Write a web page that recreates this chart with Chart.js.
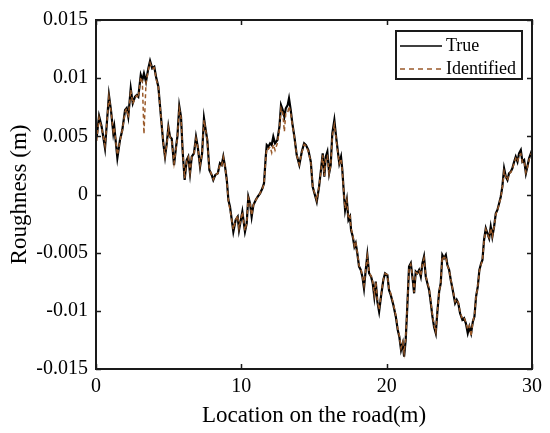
<!DOCTYPE html>
<html>
<head>
<meta charset="utf-8">
<script src="https://cdn.jsdelivr.net/npm/chart.js@4.4.1/dist/chart.umd.min.js"></script>
<style>
html, body { margin: 0; padding: 0; background: #fff; }
canvas { display: block; }
</style>
</head>
<body>
<canvas id="roadChart" width="550" height="433"></canvas>
<script>
// Location on the road (m)
const roadPos = [
  0.05, 0.21, 0.39, 0.62, 0.89, 1.03, 1.19, 1.26, 1.47, 1.65, 1.81, 2.00, 2.11, 2.22, 2.39, 2.53, 2.68, 2.80, 2.91, 3.08,
  3.19, 3.30, 3.44, 3.60, 3.72, 3.87, 4.01, 4.13, 4.29, 4.47, 4.63, 4.75, 4.87, 4.98, 5.09, 5.21, 5.37, 5.51, 5.60, 5.73,
  5.85, 5.97, 6.10, 6.24, 6.35, 6.47, 6.59, 6.74, 6.88, 7.00, 7.16, 7.30, 7.43, 7.55, 7.66, 7.80, 7.96, 8.07, 8.21, 8.38,
  8.53, 8.65, 8.76, 8.88, 9.00, 9.11, 9.22, 9.45, 9.61, 9.75, 9.84, 10.07, 10.25, 10.37, 10.48, 10.60, 10.71, 10.83, 10.99, 11.13,
  11.29, 11.45, 11.56, 11.68, 11.75, 11.86, 11.98, 12.09, 12.20, 12.32, 12.48, 12.62, 12.73, 12.85, 12.96, 13.06, 13.19, 13.28, 13.40, 13.51,
  13.65, 13.81, 13.99, 14.16, 14.32, 14.45, 14.61, 14.78, 14.91, 15.19, 15.35, 15.49, 15.60, 15.71, 15.81, 15.92, 16.04, 16.15, 16.26, 16.40,
  16.52, 16.63, 16.74, 16.86, 16.95, 17.07, 17.14, 17.26, 17.37, 17.48, 17.55, 17.67, 17.78, 17.87, 17.98, 18.10, 18.22, 18.33, 18.44, 18.56,
  18.67, 18.79, 18.93, 19.04, 19.15, 19.25, 19.36, 19.48, 19.61, 19.77, 19.89, 20.05, 20.16, 20.28, 20.46, 20.63, 20.76, 20.87, 20.99, 21.11,
  21.20, 21.31, 21.42, 21.54, 21.66, 21.77, 21.89, 22.00, 22.11, 22.23, 22.35, 22.46, 22.57, 22.69, 22.80, 22.92, 23.04, 23.15, 23.26, 23.38,
  23.49, 23.61, 23.72, 23.83, 23.95, 24.07, 24.18, 24.30, 24.41, 24.52, 24.71, 24.82, 24.93, 25.05, 25.21, 25.33, 25.45, 25.58, 25.69, 25.81,
  25.93, 26.04, 26.15, 26.27, 26.38, 26.50, 26.59, 26.70, 26.82, 26.93, 27.05, 27.16, 27.27, 27.39, 27.51, 27.62, 27.74, 27.85, 27.96, 28.08,
  28.20, 28.31, 28.42, 28.54, 28.65, 28.77, 28.88, 29.00, 29.11, 29.23, 29.34, 29.46, 29.58, 29.68, 29.80, 29.92, 30.00
];

// True roughness (m)
const trueRough = [
  0.00497, 0.00674, 0.00582, 0.00399, 0.00855, 0.00726, 0.00528, 0.00582, 0.00314, 0.00468, 0.00554, 0.00726, 0.00743, 0.00668, 0.00912, 0.00784, 0.00840, 0.00855, 0.00840, 0.01027,
  0.00984, 0.01041, 0.00969, 0.01084, 0.01149, 0.01084, 0.01098, 0.01012, 0.00926, 0.00668, 0.00440, 0.00325, 0.00440, 0.00582, 0.00497, 0.00480, 0.00253, 0.00411, 0.00497, 0.00760,
  0.00668, 0.00354, 0.00125, 0.00296, 0.00325, 0.00182, 0.00325, 0.00354, 0.00497, 0.00411, 0.00239, 0.00354, 0.00655, 0.00554, 0.00468, 0.00210, 0.00168, 0.00125, 0.00168, 0.00182,
  0.00268, 0.00253, 0.00325, 0.00239, 0.00125, -0.00047, -0.00105, -0.00320, -0.00219, -0.00191, -0.00305, -0.00148, -0.00320, -0.00247, -0.00019, -0.00076, -0.00191, -0.00090, -0.00047, -0.00019,
  0.00010, 0.00053, 0.00096, 0.00325, 0.00425, 0.00411, 0.00440, 0.00425, 0.00497, 0.00440, 0.00468, 0.00582, 0.00769, 0.00726, 0.00668, 0.00741, 0.00769, 0.00826, 0.00726, 0.00612,
  0.00497, 0.00339, 0.00253, 0.00368, 0.00440, 0.00425, 0.00382, 0.00282, 0.00067, -0.00062, 0.00067, 0.00225, 0.00354, 0.00153, 0.00325, 0.00368, 0.00182, 0.00253, 0.00526, 0.00640,
  0.00497, 0.00382, 0.00268, 0.00325, 0.00210, -0.00019, -0.00133, -0.00047, -0.00219, -0.00191, -0.00305, -0.00363, -0.00448, -0.00419, -0.00505, -0.00620, -0.00649, -0.00706, -0.00806, -0.00649,
  -0.00520, -0.00677, -0.00706, -0.00763, -0.00878, -0.00749, -0.00921, -0.01007, -0.00878, -0.00735, -0.00677, -0.00692, -0.00820, -0.00863, -0.00949, -0.01050, -0.01164, -0.01222, -0.01336, -0.01278,
  -0.01393, -0.01250, -0.00964, -0.00620, -0.00591, -0.00706, -0.00849, -0.00663, -0.00677, -0.00649, -0.00706, -0.00591, -0.00534, -0.00706, -0.00763, -0.00820, -0.00935, -0.01050, -0.01136, -0.01192,
  -0.01007, -0.00835, -0.00763, -0.00520, -0.00548, -0.00520, -0.00606, -0.00649, -0.00735, -0.00803, -0.00935, -0.00906, -0.00935, -0.01021, -0.01078, -0.01064, -0.01107, -0.01192, -0.01136, -0.01192,
  -0.01093, -0.01050, -0.00878, -0.00792, -0.00649, -0.00591, -0.00563, -0.00391, -0.00290, -0.00333, -0.00376, -0.00277, -0.00363, -0.00277, -0.00162, -0.00133, -0.00076, -0.00019, 0.00067, 0.00225,
  0.00153, 0.00125, 0.00182, 0.00196, 0.00225, 0.00282, 0.00325, 0.00282, 0.00354, 0.00382, 0.00282, 0.00296, 0.00182, 0.00239, 0.00311, 0.00354, 0.00382
];

// Identified roughness (m)
const identRough = [
  0.00460, 0.00660, 0.00570, 0.00420, 0.00840, 0.00720, 0.00540, 0.00570, 0.00340, 0.00460, 0.00550, 0.00710, 0.00740, 0.00660, 0.00900, 0.00780, 0.00830, 0.00850, 0.00830, 0.01010,
  0.00970, 0.00520, 0.00960, 0.01070, 0.01130, 0.01080, 0.01090, 0.01000, 0.00920, 0.00670, 0.00450, 0.00330, 0.00430, 0.00570, 0.00490, 0.00470, 0.00270, 0.00400, 0.00490, 0.00740,
  0.00660, 0.00360, 0.00140, 0.00290, 0.00320, 0.00190, 0.00320, 0.00350, 0.00480, 0.00410, 0.00250, 0.00350, 0.00640, 0.00550, 0.00460, 0.00220, 0.00170, 0.00130, 0.00170, 0.00180,
  0.00260, 0.00250, 0.00320, 0.00240, 0.00120, -0.00060, -0.00130, -0.00300, -0.00220, -0.00180, -0.00290, -0.00150, -0.00310, -0.00240, -0.00030, -0.00080, -0.00180, -0.00090, -0.00050, -0.00020,
  0.00010, 0.00050, 0.00090, 0.00300, 0.00400, 0.00390, 0.00410, 0.00360, 0.00430, 0.00380, 0.00440, 0.00560, 0.00740, 0.00700, 0.00540, 0.00700, 0.00700, 0.00760, 0.00700, 0.00600,
  0.00490, 0.00340, 0.00260, 0.00360, 0.00430, 0.00420, 0.00370, 0.00280, 0.00070, -0.00050, 0.00070, 0.00220, 0.00340, 0.00160, 0.00310, 0.00330, 0.00180, 0.00250, 0.00500, 0.00600,
  0.00480, 0.00370, 0.00270, 0.00310, 0.00200, -0.00020, -0.00120, -0.00050, -0.00210, -0.00190, -0.00290, -0.00350, -0.00440, -0.00410, -0.00500, -0.00610, -0.00640, -0.00700, -0.00780, -0.00640,
  -0.00530, -0.00670, -0.00700, -0.00750, -0.00860, -0.00750, -0.00910, -0.00990, -0.00870, -0.00730, -0.00680, -0.00690, -0.00810, -0.00850, -0.00940, -0.01040, -0.01150, -0.01210, -0.01320, -0.01270,
  -0.01360, -0.01240, -0.00960, -0.00630, -0.00600, -0.00700, -0.00840, -0.00670, -0.00680, -0.00650, -0.00700, -0.00600, -0.00550, -0.00700, -0.00750, -0.00810, -0.00920, -0.01040, -0.01120, -0.01180,
  -0.01000, -0.00840, -0.00760, -0.00530, -0.00550, -0.00530, -0.00610, -0.00650, -0.00730, -0.00800, -0.00920, -0.00900, -0.00930, -0.01010, -0.01070, -0.01060, -0.01100, -0.01160, -0.01130, -0.01220,
  -0.01090, -0.01040, -0.00880, -0.00790, -0.00660, -0.00600, -0.00570, -0.00400, -0.00300, -0.00340, -0.00370, -0.00290, -0.00360, -0.00280, -0.00170, -0.00140, -0.00080, -0.00030, 0.00060, 0.00200,
  0.00150, 0.00120, 0.00180, 0.00190, 0.00220, 0.00270, 0.00310, 0.00280, 0.00340, 0.00350, 0.00280, 0.00290, 0.00190, 0.00230, 0.00300, 0.00340, 0.00370
];

const xTicks = [0, 10, 20, 30];
const yTicks = [-0.015, -0.01, -0.005, 0, 0.005, 0.01, 0.015];
const seriesNames = ['True', 'Identified'];

const serif = "'Liberation Serif', 'Times New Roman', serif";
const trueColor = '#000000';
const identColor = '#9a5a2a';

const toPoints = (xs, ys) => xs.map((x, i) => ({ x: x, y: ys[i] }));

// box around the axes, inward ticks and the boxed legend (MATLAB look)
const matlabFrame = {
  id: 'matlabFrame',
  afterDraw(chart) {
    const ctx = chart.ctx;
    const a = chart.chartArea;
    const xs = chart.scales.x;
    const ys = chart.scales.y;
    ctx.save();
    ctx.strokeStyle = '#1a1a1a';
    ctx.lineWidth = 2;
    ctx.strokeRect(a.left, a.top, a.right - a.left, a.bottom - a.top);

    ctx.lineWidth = 1.5;
    ctx.beginPath();
    xTicks.forEach(v => {
      const p = Math.round(xs.getPixelForValue(v)) + 0.5;
      ctx.moveTo(p, a.bottom); ctx.lineTo(p, a.bottom - 5);
      ctx.moveTo(p, a.top); ctx.lineTo(p, a.top + 5);
    });
    yTicks.forEach(v => {
      const p = Math.round(ys.getPixelForValue(v)) + 0.5;
      ctx.moveTo(a.left, p); ctx.lineTo(a.left + 5, p);
      ctx.moveTo(a.right, p); ctx.lineTo(a.right - 5, p);
    });
    ctx.stroke();

    // legend
    const bx = a.right - 136, by = a.top + 11, bw = 126, bh = 48;
    ctx.fillStyle = '#fff';
    ctx.fillRect(bx, by, bw, bh);
    ctx.lineWidth = 2;
    ctx.strokeStyle = '#1a1a1a';
    ctx.strokeRect(bx, by, bw, bh);

    ctx.font = '18px ' + serif;
    ctx.textBaseline = 'middle';
    ctx.textAlign = 'left';
    const rows = [by + 15, by + 38];
    ctx.lineWidth = 1.6;
    ctx.strokeStyle = trueColor;
    ctx.beginPath(); ctx.moveTo(bx + 4, rows[0]); ctx.lineTo(bx + 46, rows[0]); ctx.stroke();
    ctx.strokeStyle = identColor;
    ctx.setLineDash([5, 4]);
    ctx.beginPath(); ctx.moveTo(bx + 4, rows[1]); ctx.lineTo(bx + 46, rows[1]); ctx.stroke();
    ctx.setLineDash([]);
    ctx.fillStyle = '#000';
    ctx.fillText(seriesNames[0], bx + 50, rows[0]);
    ctx.fillText(seriesNames[1], bx + 50, rows[1]);
    ctx.restore();
  }
};

new Chart(document.getElementById('roadChart'), {
  type: 'line',
  data: {
    datasets: [
      {
        label: seriesNames[0],
        data: toPoints(roadPos, trueRough),
        borderColor: trueColor,
        borderWidth: 2.2,
        pointRadius: 0,
        tension: 0,
        order: 2
      },
      {
        label: seriesNames[1],
        data: toPoints(roadPos, identRough),
        borderColor: identColor,
        borderWidth: 1.5,
        borderDash: [4, 3],
        pointRadius: 0,
        tension: 0,
        order: 1
      }
    ]
  },
  options: {
    responsive: false,
    animation: false,
    layout: { padding: { top: 20, right: 18, left: 0, bottom: 0 } },
    plugins: {
      legend: { display: false },
      tooltip: { enabled: false }
    },
    scales: {
      x: {
        type: 'linear',
        min: 0,
        max: 30,
        afterBuildTicks: s => { s.ticks = xTicks.map(v => ({ value: v })); },
        afterFit: s => { s.height = 64; },
        grid: { display: false, drawTicks: false },
        border: { display: false },
        ticks: { padding: 6, color: '#000', font: { family: serif, size: 20 } },
        title: {
          display: true,
          text: 'Location on the road(m)',
          color: '#000',
          font: { family: serif, size: 23 },
          padding: { top: 0, bottom: 3 }
        }
      },
      y: {
        min: -0.015,
        max: 0.015,
        afterBuildTicks: s => { s.ticks = yTicks.map(v => ({ value: v })); },
        afterFit: s => { s.width = 96; },
        grid: { display: false, drawTicks: false },
        border: { display: false },
        ticks: {
          padding: 8,
          color: '#000',
          font: { family: serif, size: 20 },
          callback: v => String(Number(v.toFixed(3)))
        },
        title: {
          display: true,
          text: 'Roughness (m)',
          color: '#000',
          font: { family: serif, size: 23 },
          padding: { top: 6, bottom: 0 }
        }
      }
    }
  },
  plugins: [matlabFrame]
});
</script>
</body>
</html>
